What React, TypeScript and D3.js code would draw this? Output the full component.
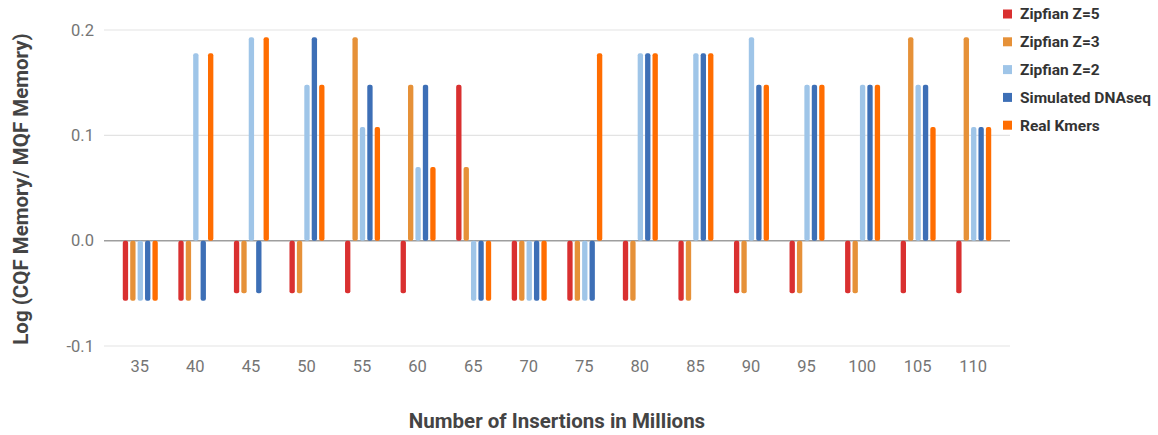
import React from "react";
import * as d3 from "d3";

const categories = ["35","40","45","50","55","60","65","70","75","80","85","90","95","100","105","110"];
const seriesNames = ["Zipfian Z=5","Zipfian Z=3","Zipfian Z=2","Simulated DNAseq","Real Kmers"];
const zipf5 = [-0.057,-0.057,-0.05,-0.05,-0.05,-0.05,0.148,-0.057,-0.057,-0.057,-0.057,-0.05,-0.05,-0.05,-0.05,-0.05];
const zipf3 = [-0.057,-0.057,-0.05,-0.05,0.193,0.148,0.07,-0.057,-0.057,-0.057,-0.057,-0.05,-0.05,-0.05,0.193,0.193];
const zipf2 = [-0.057,0.178,0.193,0.148,0.108,0.07,-0.057,-0.057,-0.057,0.178,0.178,0.193,0.148,0.148,0.148,0.108];
const dnaseq = [-0.057,-0.057,-0.05,0.193,0.148,0.148,-0.057,-0.057,-0.057,0.178,0.178,0.148,0.148,0.148,0.148,0.108];
const kmers = [-0.057,0.178,0.193,0.148,0.108,0.07,-0.057,-0.057,0.178,0.178,0.178,0.148,0.148,0.148,0.108,0.108];
const yTicks = [0.2, 0.1, 0.0, -0.1];
const yTickLabels = ["0.2", "0.1", "0.0", "-0.1"];
const colors = ["#d93030","#e69138","#9fc5e8","#3d6fb6","#ff6d01"];

const W = 1158, H = 435;

export default function App() {
  const series = [zipf5, zipf3, zipf2, dnaseq, kmers];
  const y = d3.scaleLinear().domain([-0.1, 0.2]).range([346, 30]);
  const x = d3.scaleBand<string>().domain(categories).range([112, 1001]);
  const inner = d3.scaleBand<number>().domain(d3.range(5)).range([-17, 18]).paddingInner(0.28);
  const gridL = 104, gridR = 1010;
  const font = "Roboto, 'Noto Sans', Arial, sans-serif";
  return (
    <svg width={W} height={H} style={{ display: "block", position: "absolute", left: 0, top: 0 }} fontFamily={font}>
      <rect width={W} height={H} fill="#fff" />
      {yTicks.map((t, k) => (
        <g key={t}>
          <line x1={gridL} x2={gridR} y1={y(t)} y2={y(t)} stroke={t === 0 ? "#9e9e9e" : "#e3e3e3"} strokeWidth={t === 0 ? 1.5 : 1.2} />
          <text x={94} y={y(t)} dy="0.35em" textAnchor="end" fontSize={16.5} fill="#757575">
            {yTickLabels[k]}
          </text>
        </g>
      ))}
      {categories.map((c, i) => (
        <g key={c} transform={`translate(${(x(c) ?? 0) + x.bandwidth() / 2},0)`}>
          {series.map((s, j) => {
            const v = s[i];
            const y0 = y(0), y1 = y(v);
            return (
              <rect key={j} x={inner(j)} width={inner.bandwidth()} y={Math.min(y0, y1)} height={Math.abs(y1 - y0)} rx={2} fill={colors[j]} />
            );
          })}
          <text x={0} y={366} dy="0.35em" textAnchor="middle" fontSize={16.5} fill="#757575">{c}</text>
        </g>
      ))}
      <text transform={`translate(21,189) rotate(-90)`} dy="0.35em" textAnchor="middle" fontSize={20.5} fontWeight="bold" fill="#444">
        Log (CQF Memory/ MQF Memory)
      </text>
      <text x={557} y={421} dy="0.35em" textAnchor="middle" fontSize={20.5} fontWeight="bold" fill="#444">
        Number of Insertions in Millions
      </text>
      {seriesNames.map((n, j) => (
        <g key={n} transform={`translate(1003,${14 + j * 27.8})`}>
          <rect x={0} y={-4.5} width={9} height={9} fill={colors[j]} />
          <text x={17} y={0} dy="0.35em" fontSize={15.5} fontWeight="bold" fill="#333">{n}</text>
        </g>
      ))}
    </svg>
  );
}
